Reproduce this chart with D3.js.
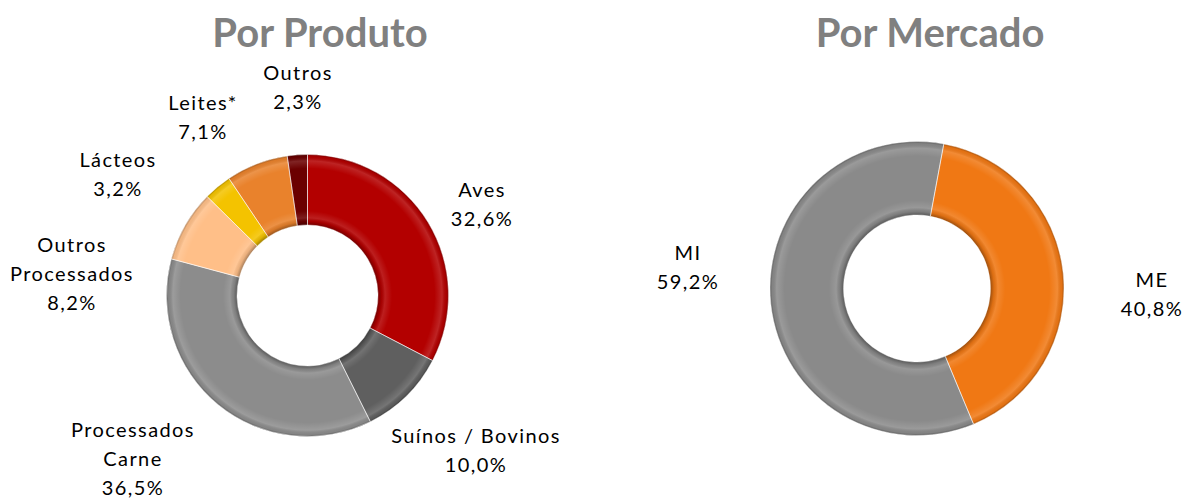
<!DOCTYPE html>
<html>
<head>
<meta charset="utf-8">
<script src="https://cdn.jsdelivr.net/npm/d3@7"></script>
<style>
  html, body { margin: 0; padding: 0; background: #fff; }
  svg { display: block; }
  .title { font-family: Lato, "Open Sans", sans-serif; font-weight: 700; fill: #808080; }
  .lbl { font-family: Lato, "Open Sans", sans-serif; fill: #000; }
</style>
</head>
<body>
<svg id="chart" width="1185" height="498"></svg>
<script>
// data
const produtoLabels = [['Aves'], ['Suínos / Bovinos'], ['Processados', 'Carne'], ['Outros', 'Processados'], ['Lácteos'], ['Leites*'], ['Outros']];
const produtoValues = [32.6, 10.0, 36.5, 8.2, 3.2, 7.1, 2.3];
const mercadoLabels = [['ME'], ['MI']];
const mercadoValues = [40.8, 59.2];

// styles
const produtoColors = ['#b30000', '#5f5f5f', '#8c8c8c', '#ffbf88', '#f4c300', '#e9822c', '#6b0000'];
const mercadoColors = ['#f07814', '#8a8a8a'];

// layout: label anchors (center x, first baseline)
const produtoLabelPos = [[482, 197], [476, 443], [133, 437], [72, 252], [118, 167], [203, 110], [298, 80]];
const mercadoLabelPos = [[1152, 287], [688, 260]];

const svg = d3.select('#chart');
const fmt = v => d3.format('.1f')(v).replace('.', ',') + '%';
const lineH = 29;

svg.append('text').attr('class', 'title')
   .attr('x', 320).attr('y', 47)
   .attr('text-anchor', 'middle').style('font-size', '40px')
   .text('Por Produto');

svg.append('text').attr('class', 'title')
   .attr('x', 930).attr('y', 47)
   .attr('text-anchor', 'middle').style('font-size', '40px')
   .text('Por Mercado');

const defs = svg.append('defs');

function donut(id, cx, cy, R, r, rot, values, labels, colors, labelPos) {
    //rim shading, a rough take on the excel bevel
    const k = r / R;
    const grad = defs.append('radialGradient')
        .attr('id', 'bevel-' + id)
        .attr('gradientUnits', 'userSpaceOnUse')
        .attr('cx', 0).attr('cy', 0).attr('r', R);
    [[k, 'rgba(0,0,0,0.35)'], [k + 0.025, 'rgba(0,0,0,0.08)'], [k + 0.05, 'rgba(255,255,255,0.12)'],
     [k + 0.1, 'rgba(255,255,255,0)'], [0.9, 'rgba(255,255,255,0)'], [0.955, 'rgba(255,255,255,0.14)'],
     [0.985, 'rgba(0,0,0,0.05)'], [1, 'rgba(0,0,0,0.3)']]
        .forEach(s => grad.append('stop').attr('offset', s[0]).attr('stop-color', s[1]));

    const pie = d3.pie().sort(null)
        .startAngle(rot).endAngle(rot + 2 * Math.PI)(values);
    const arc = d3.arc().innerRadius(r).outerRadius(R);

    const g = svg.append('g').attr('transform', `translate(${cx},${cy})`);

    g.selectAll('path.slice')
        .data(pie)
        .join('path')
        .attr('class', 'slice')
        .attr('d', arc)
        .style('fill', (d, i) => colors[i]);

    g.selectAll('path.shade')
        .data(pie)
        .join('path')
        .attr('class', 'shade')
        .attr('d', arc)
        .style('fill', `url(#bevel-${id})`)
        .style('stroke', 'rgba(255,255,255,0.45)')
        .style('stroke-width', 1);

    //labels
    const lg = svg.append('g');
    values.forEach((v, i) => {
        const lines = labels[i].concat([fmt(v)]);
        const t = lg.append('text').attr('class', 'lbl')
            .attr('text-anchor', 'middle')
            .style('font-size', '20px')
            .style('letter-spacing', '1.4px');
        lines.forEach((s, j) => {
            t.append('tspan')
             .attr('x', labelPos[i][0])
             .attr('y', labelPos[i][1] + j * lineH)
             .text(s);
        });
    });
}

donut('prod', 307.5, 295.5, 141, 70.5, 0, produtoValues, produtoLabels, produtoColors, produtoLabelPos);
donut('merc', 917, 288.5, 147, 73.5, 10.5 * Math.PI / 180, mercadoValues, mercadoLabels, mercadoColors, mercadoLabelPos);
</script>
</body>
</html>
